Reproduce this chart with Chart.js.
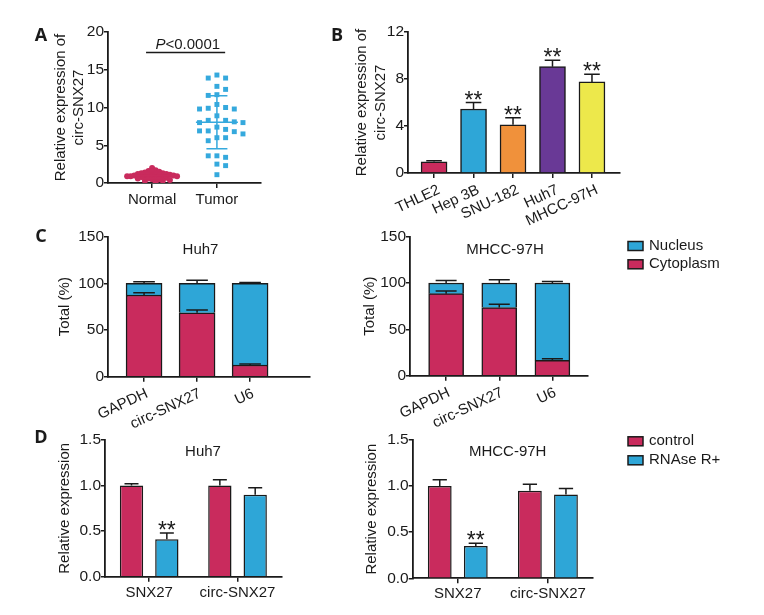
<!DOCTYPE html>
<html lang="en">
<head>
<meta charset="UTF-8" />
<title>circ-SNX27 expression</title>
<script src="https://cdn.jsdelivr.net/npm/chart.js"></script>
<style>
  body { margin: 0; background: #fff; }
  #fig { position: relative; width: 764px; height: 615px; overflow: hidden; }
  canvas { position: absolute; }
  .tag { position: absolute; font: 700 18px "Open Sans", sans-serif; line-height: 18px; color: #1a1a1a; transform: translate(-50%, -50%); }
</style>
</head>
<body>
<div id="fig">
  <canvas id="cA" width="280" height="215" style="left:0;top:0"></canvas>
  <canvas id="cB" width="340" height="235" style="left:290px;top:0"></canvas>
  <canvas id="cC1" width="330" height="240" style="left:0;top:215px"></canvas>
  <canvas id="cC2" width="434" height="240" style="left:330px;top:215px"></canvas>
  <canvas id="cD1" width="330" height="210" style="left:0;top:405px"></canvas>
  <canvas id="cD2" width="434" height="210" style="left:330px;top:405px"></canvas>
  <div class="tag" style="left:41px;top:34px">A</div>
  <div class="tag" style="left:337px;top:34px">B</div>
  <div class="tag" style="left:41px;top:235px">C</div>
  <div class="tag" style="left:41px;top:436px">D</div>
</div>

<script>
  // ---- data ----
  const groupsA = ['Normal', 'Tumor'];
  const normalValues = [2.0, 1.7, 1.6, 1.5, 1.5, 1.4, 1.3, 1.3, 1.2, 1.2, 1.2, 1.1, 1.1, 1.0, 1.0, 1.0, 1.0,
                        0.9, 0.9, 0.9, 0.8, 0.8, 0.8, 0.7, 0.7, 0.6, 0.6, 0.5, 0.5, 0.4, 0.3, 0.3, 0.1];
  const tumorValues = [14.3, 13.9, 13.9, 12.8, 12.4, 11.7, 11.6, 10.4, 10.0, 9.9, 9.8, 9.8, 8.9, 8.3, 8.3,
                       8.1, 8.0, 8.0, 7.4, 7.1, 6.9, 6.8, 6.9, 6.5, 6.0, 6.0, 5.6, 3.6, 3.4, 3.6, 2.5, 2.3, 1.1];
  const normalMean = 1.0, normalSD = 0.45;
  const tumorMean = 8.05, tumorSD = 3.5;
  const pBracketY = 17.3;

  const cellLines = ['THLE2', 'Hep 3B', 'SNU-182', 'Huh7', 'MHCC-97H'];
  const cellExpr = [0.95, 5.45, 4.1, 9.05, 7.75];
  const cellErr = [0.1, 0.55, 0.6, 0.55, 0.65];
  const cellStars = ['', '**', '**', '**', '**'];

  const fracGenes = ['GAPDH', 'circ-SNX27', 'U6'];
  const huh7Cyto = [87.5, 68.5, 12.5];
  const huh7CytoErr = [2.5, 3, 1];
  const huh7Nuc = [12.5, 31.5, 87.5];
  const huh7NucErr = [1.8, 3.3, 1];
  const mhccCyto = [88.5, 73.5, 16.5];
  const mhccCytoErr = [3, 3.5, 1.8];
  const mhccNuc = [11.5, 26.5, 83.5];
  const mhccNucErr = [2.8, 3.5, 1.7];

  const rnaseTargets = ['SNX27', 'circ-SNX27'];
  const huh7Control = [1.0, 1.0];
  const huh7ControlErr = [0.02, 0.065];
  const huh7Rnase = [0.41, 0.9];
  const huh7RnaseErr = [0.07, 0.075];
  const huh7Stars = ['**', ''];
  const mhccControl = [1.0, 0.95];
  const mhccControlErr = [0.07, 0.07];
  const mhccRnase = [0.35, 0.91];
  const mhccRnaseErr = [0.03, 0.065];
  const mhccStars = ['**', ''];

  // ---- look ----
  const INK = '#1a1a1a';
  const RED = '#c92b5d';
  const BLUE = '#2ea6d7';
  const cellColors = [RED, BLUE, '#f0913b', '#693996', '#ede84b'];
  const FONT = '"Liberation Sans", Arial, sans-serif';
  const AXIS_W = 1.8;

  Chart.defaults.font.family = FONT;
  Chart.defaults.font.size = 15;
  Chart.defaults.color = INK;
  Chart.defaults.animation = false;
  Chart.defaults.plugins.legend.display = false;
  Chart.defaults.plugins.tooltip.enabled = false;

  // GraphPad-like column scatter: each point takes the first free column
  function swarm(values, center, step, minDy) {
    const placed = [];
    return values.map(v => {
      for (let k = 0; ; k++) {
        const col = k === 0 ? 0 : (k % 2 ? (k + 1) / 2 : -k / 2);
        if (!placed.some(p => p.col === col && Math.abs(p.v - v) < minDy)) {
          placed.push({ col, v });
          return { x: center + col * step, y: v };
        }
      }
    });
  }

  function yAxis(max, step, title, titlePad, width, fmt) {
    const ticks = { stepSize: step, font: { size: 15.5 }, padding: 0 };
    if (fmt) ticks.callback = fmt;
    return {
      min: 0, max: max,
      ticks: ticks,
      grid: { drawOnChartArea: false, tickLength: 4, color: INK, lineWidth: 1.5 },
      border: { color: INK, width: AXIS_W },
      title: { display: true, text: title, font: { size: 15, lineHeight: 1.25 }, padding: { top: titlePad, bottom: 0 } },
      afterFit: (s) => { s.width = width; }
    };
  }

  function xLinear(cats, min, max, height, rot, shift) {
    return {
      type: 'linear', min: min, max: max, offset: false,
      afterBuildTicks: (s) => { s.ticks = cats.map((c, i) => ({ value: i + 1 })); },
      ticks: { autoSkip: false, callback: (v) => cats[Math.round(v) - 1], font: { size: 15 }, padding: 3,
               minRotation: rot, maxRotation: rot, labelOffset: shift || 0 },
      grid: { offset: false, drawOnChartArea: false, tickLength: 5, color: INK, lineWidth: 1.5 },
      border: { color: INK, width: AXIS_W },
      afterFit: (s) => { s.height = height; }
    };
  }

  function xCategory(height) {
    return {
      offset: true,
      ticks: { font: { size: 15 }, padding: 2, maxRotation: 0 },
      grid: { offset: false, drawOnChartArea: false, tickLength: 5, color: INK, lineWidth: 1.5 },
      border: { color: INK, width: AXIS_W },
      afterFit: (s) => { s.height = height; }
    };
  }

  // error bars (and asterisks) on top of bars
  const errorBars = {
    id: 'errorBars',
    afterDatasetsDraw(chart) {
      const ctx = chart.ctx;
      const ys = chart.scales.y;
      chart.data.datasets.forEach((ds, di) => {
        if (!ds.errors) return;
        chart.getDatasetMeta(di).data.forEach((bar, i) => {
          const top = bar.y - (ys.getPixelForValue(0) - ys.getPixelForValue(ds.errors[i]));
          const half = bar.width * 0.3;
          ctx.save();
          ctx.strokeStyle = INK;
          ctx.lineWidth = 1.5;
          ctx.beginPath();
          ctx.moveTo(bar.x, bar.y);
          ctx.lineTo(bar.x, top);
          ctx.moveTo(bar.x - half, top);
          ctx.lineTo(bar.x + half, top);
          ctx.stroke();
          if (ds.stars && ds.stars[i]) {
            ctx.fillStyle = INK;
            ctx.font = '23px ' + FONT;
            ctx.textAlign = 'center';
            ctx.textBaseline = 'alphabetic';
            const m = ctx.measureText(ds.stars[i]);
            ctx.fillText(ds.stars[i], bar.x, top - 3 - m.actualBoundingBoxDescent);
          }
          ctx.restore();
        });
      });
    }
  };

  const panelTitle = {
    id: 'panelTitle',
    afterDraw(chart, args, opts) {
      if (!opts.text) return;
      const ctx = chart.ctx;
      ctx.save();
      ctx.fillStyle = INK;
      ctx.font = '15px ' + FONT;
      ctx.textAlign = 'center';
      ctx.textBaseline = 'middle';
      ctx.fillText(opts.text, opts.x, opts.y);
      ctx.restore();
    }
  };

  const sideLegend = {
    id: 'sideLegend',
    afterDraw(chart, args, opts) {
      if (!opts.order) return;
      const ctx = chart.ctx;
      ctx.save();
      opts.order.forEach((di, k) => {
        const ds = chart.data.datasets[di];
        const cy = opts.y + k * opts.gap;
        ctx.fillStyle = ds.backgroundColor;
        ctx.fillRect(opts.x, cy - 4.5, 15, 9);
        ctx.strokeStyle = INK;
        ctx.lineWidth = 1.5;
        ctx.strokeRect(opts.x, cy - 4.5, 15, 9);
        ctx.fillStyle = INK;
        ctx.font = '15px ' + FONT;
        ctx.textAlign = 'left';
        ctx.textBaseline = 'middle';
        ctx.fillText(ds.label, opts.x + 21, cy);
      });
      ctx.restore();
    }
  };

  // mean +/- SD lines and the P bracket for the scatter
  const scatterMarks = {
    id: 'scatterMarks',
    afterDatasetsDraw(chart, args, opts) {
      const ctx = chart.ctx;
      const xs = chart.scales.x, ys = chart.scales.y;
      ctx.save();
      ctx.lineWidth = 1.5;
      opts.stats.forEach(s => {
        const cx = xs.getPixelForValue(s.x);
        const m = ys.getPixelForValue(s.mean);
        const hi = ys.getPixelForValue(s.mean + s.sd);
        const lo = ys.getPixelForValue(s.mean - s.sd);
        ctx.strokeStyle = s.color;
        ctx.beginPath();
        ctx.moveTo(cx - 21, m); ctx.lineTo(cx + 21, m);
        ctx.moveTo(cx, hi); ctx.lineTo(cx, lo);
        ctx.moveTo(cx - 10.5, hi); ctx.lineTo(cx + 10.5, hi);
        ctx.moveTo(cx - 10.5, lo); ctx.lineTo(cx + 10.5, lo);
        ctx.stroke();
      });
      const by = ys.getPixelForValue(opts.bracket.y);
      ctx.strokeStyle = INK;
      ctx.beginPath();
      ctx.moveTo(xs.getPixelForValue(opts.bracket.x0), by);
      ctx.lineTo(xs.getPixelForValue(opts.bracket.x1), by);
      ctx.stroke();
      const tx = xs.getPixelForValue(opts.bracket.tx);
      ctx.fillStyle = INK;
      ctx.textBaseline = 'alphabetic';
      ctx.textAlign = 'left';
      ctx.font = 'italic 15px ' + FONT;
      const w1 = ctx.measureText('P').width;
      ctx.font = '15px ' + FONT;
      const w2 = ctx.measureText('<0.0001').width;
      ctx.font = 'italic 15px ' + FONT;
      ctx.fillText('P', tx - (w1 + w2) / 2, by - 3);
      ctx.font = '15px ' + FONT;
      ctx.fillText('<0.0001', tx - (w1 + w2) / 2 + w1, by - 3);
      ctx.restore();
    }
  };

  // ---- A: scatter ----
  new Chart(document.getElementById('cA'), {
    type: 'scatter',
    data: {
      datasets: [
        { data: swarm(normalValues, 1, 0.055, 0.5), pointStyle: 'circle', pointRadius: 3,
          backgroundColor: RED, borderWidth: 0 },
        { data: swarm(tumorValues, 2, 0.134, 1.0), pointStyle: 'rect', pointRadius: 3.5,
          backgroundColor: '#35a9dd', borderWidth: 0 }
      ]
    },
    options: {
      responsive: false,
      layout: { padding: { left: 0, top: 32, right: 19, bottom: 0 } },
      scales: {
        x: xLinear(groupsA, 0.32, 2.68, 32, 0),
        y: yAxis(20, 5, ['Relative expression of', 'circ-SNX27'], 51, 108)
      },
      plugins: {
        scatterMarks: {
          stats: [
            { x: 1, mean: normalMean, sd: normalSD, color: RED },
            { x: 2, mean: tumorMean, sd: tumorSD, color: '#35a9dd' }
          ],
          bracket: { x0: 0.907, x1: 2.127, y: pBracketY, tx: 1.55 }
        }
      }
    },
    plugins: [scatterMarks]
  });

  // ---- B: cell lines ----
  new Chart(document.getElementById('cB'), {
    type: 'bar',
    data: {
      datasets: [{
        data: cellExpr.map((v, i) => ({ x: i + 1, y: v })),
        backgroundColor: cellColors, borderColor: INK, borderWidth: 1.5, barThickness: 26,
        errors: cellErr, stars: cellStars
      }]
    },
    options: {
      responsive: false,
      layout: { padding: { left: 0, top: 32, right: 10, bottom: 0 } },
      scales: {
        x: xLinear(cellLines, 0.34, 5.71, 62, 25, 5),
        y: yAxis(12, 4, ['Relative expression of', 'circ-SNX27'], 62.6, 118)
      }
    },
    plugins: [errorBars]
  });

  // ---- C: nuclear / cytoplasmic fractions ----
  function fractionChart(id, cyto, cytoErr, nuc, nucErr, opt) {
    new Chart(document.getElementById(id), {
      type: 'bar',
      data: {
        datasets: [
          { label: 'Cytoplasm', data: cyto.map((v, i) => ({ x: i + 1, y: v })), errors: cytoErr,
            backgroundColor: RED, borderColor: INK, borderWidth: 1.5, barThickness: opt.bar },
          { label: 'Nucleus', data: nuc.map((v, i) => ({ x: i + 1, y: v })), errors: nucErr,
            backgroundColor: BLUE, borderColor: INK, borderWidth: 1.5, barThickness: opt.bar }
        ]
      },
      options: {
        responsive: false,
        layout: { padding: { left: 0, top: opt.top, right: opt.right, bottom: 0 } },
        scales: {
          x: Object.assign(xLinear(fracGenes, 0.32, opt.max, opt.xh, 25, 3), { stacked: true }),
          y: Object.assign(yAxis(150, 50, 'Total (%)', opt.tp, opt.yw), { stacked: true })
        },
        plugins: {
          panelTitle: opt.title,
          sideLegend: opt.legend || {}
        }
      },
      plugins: [errorBars, panelTitle, sideLegend]
    });
  }

  fractionChart('cC1', huh7Cyto, huh7CytoErr, huh7Nuc, huh7NucErr,
    { bar: 36, top: 21.7, right: 20, max: 4.13, xh: 78.3, tp: 55, yw: 108,
      title: { text: 'Huh7', x: 200.5, y: 35 } });
  fractionChart('cC2', mhccCyto, mhccCytoErr, mhccNuc, mhccNucErr,
    { bar: 35, top: 21.7, right: 176, max: 3.67, xh: 79.3, tp: 30, yw: 80,
      title: { text: 'MHCC-97H', x: 175, y: 35 },
      legend: { order: [1, 0], x: 298, y: 31, gap: 18.3 } });

  // ---- D: RNase R resistance ----
  function rnaseChart(id, ctrl, ctrlErr, rn, rnErr, stars, opt) {
    new Chart(document.getElementById(id), {
      type: 'bar',
      data: {
        labels: rnaseTargets,
        datasets: [
          { label: 'control', data: ctrl, errors: ctrlErr, backgroundColor: RED, borderColor: INK,
            borderWidth: 1.5, categoryPercentage: 0.8, barPercentage: 0.66 },
          { label: 'RNAse R+', data: rn, errors: rnErr, stars: stars, backgroundColor: BLUE, borderColor: INK,
            borderWidth: 1.5, categoryPercentage: 0.8, barPercentage: 0.66 }
        ]
      },
      options: {
        responsive: false,
        layout: { padding: { left: 0, top: 35, right: opt.right, bottom: 0 } },
        scales: {
          x: xCategory(opt.xh),
          y: yAxis(1.5, 0.5, 'Relative expression', opt.tp, opt.yw, (v) => v.toFixed(1))
        },
        plugins: {
          panelTitle: opt.title,
          sideLegend: opt.legend || {}
        }
      },
      plugins: [errorBars, panelTitle, sideLegend]
    });
  }

  rnaseChart('cD1', huh7Control, huh7ControlErr, huh7Rnase, huh7RnaseErr, huh7Stars,
    { right: 48.3, xh: 38.3, tp: 55, yw: 105, title: { text: 'Huh7', x: 203, y: 47 } });
  rnaseChart('cD2', mhccControl, mhccControlErr, mhccRnase, mhccRnaseErr, mhccStars,
    { right: 171, xh: 36.7, tp: 32, yw: 82.7, title: { text: 'MHCC-97H', x: 177.7, y: 46.7 },
      legend: { order: [0, 1], x: 298, y: 36.3, gap: 19 } });
</script>
</body>
</html>
